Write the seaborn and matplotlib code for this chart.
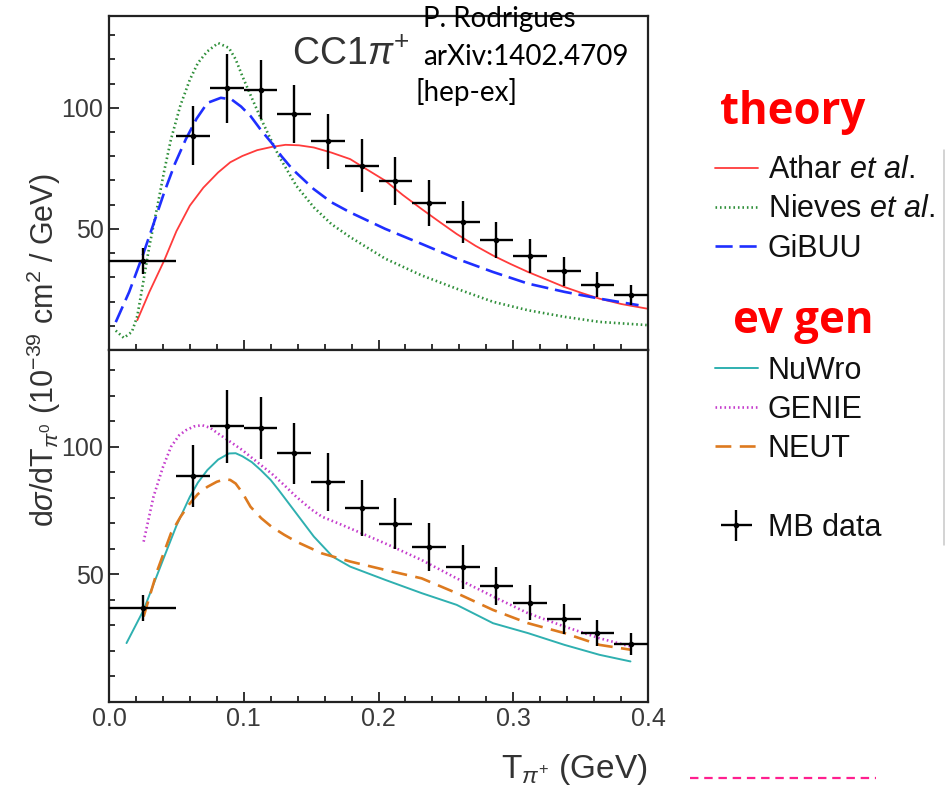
import matplotlib
matplotlib.use("Agg")
import matplotlib.pyplot as plt
import seaborn as sns
import pandas as pd
from matplotlib.lines import Line2D
from matplotlib.ticker import MultipleLocator, FixedLocator

# ---------------- data ----------------
data_x = [0.025, 0.0625, 0.0875, 0.1125, 0.1375, 0.1625, 0.1875, 0.2125,
          0.2375, 0.2625, 0.2875, 0.3125, 0.3375, 0.3625, 0.3875]
data_y = [36.7, 88.5, 108.0, 107.5, 97.5, 86.2, 76.1, 69.8,
          60.6, 52.8, 45.4, 38.9, 32.5, 27.0, 22.7]
data_yerr = [5.2, 12.2, 14.3, 12.1, 11.9, 11.3, 11.0, 10.0,
             9.4, 8.6, 7.6, 7.0, 6.0, 5.0, 4.2]
data_xerr = [0.025, 0.0125, 0.0125, 0.0125, 0.0125, 0.0125, 0.0125, 0.0125,
             0.0125, 0.0125, 0.0125, 0.0125, 0.0125, 0.0125, 0.0125]

athar_x = [0.021, 0.03, 0.041, 0.05, 0.060, 0.07, 0.081, 0.090, 0.099, 0.11,
           0.1205, 0.131, 0.141, 0.152, 0.165, 0.179, 0.19, 0.205, 0.218, 0.232,
           0.245, 0.258, 0.272, 0.285, 0.298, 0.311, 0.325, 0.338, 0.351, 0.364,
           0.38, 0.399]
athar_y = [12.3, 24.0, 37.0, 49.0, 59.6, 67.0, 73.3, 77.5, 80.1, 82.5,
           83.8, 84.7, 84.5, 83.6, 81.5, 78.8, 75.0, 69.9, 64.0, 58.2,
           53.0, 47.9, 43.0, 39.0, 35.5, 32.2, 29.0, 26.0, 23.5, 21.2,
           19.0, 17.1]

nieves_x = [0.005, 0.011, 0.017, 0.021, 0.025, 0.030, 0.036, 0.041, 0.046, 0.053,
            0.060, 0.066, 0.073, 0.081, 0.089, 0.094, 0.099, 0.106, 0.113, 0.120,
            0.126, 0.139, 0.152, 0.165, 0.179, 0.205, 0.232, 0.258, 0.285, 0.311,
            0.338, 0.364, 0.399]
nieves_y = [8.0, 5.0, 7.5, 14.0, 26.7, 43.0, 59.6, 74.0, 87.0, 101.0,
            111.6, 118.5, 123.3, 126.7, 124.7, 120.0, 113.0, 104.0, 95.2, 87.0,
            80.1, 67.8, 58.9, 52.0, 46.6, 37.7, 30.8, 25.3, 19.9, 16.4,
            13.7, 11.6, 10.3]

gibuu_x = [0.005, 0.015, 0.025, 0.033, 0.041, 0.049, 0.057, 0.065, 0.073, 0.083,
           0.091, 0.098, 0.105, 0.1125, 0.1205, 0.128, 0.136, 0.152, 0.165, 0.179,
           0.205, 0.232, 0.258, 0.285, 0.311, 0.338, 0.364, 0.393]
gibuu_y = [11.5, 24.0, 39.0, 52.0, 65.1, 77.0, 87.0, 95.5, 102.0, 104.1,
           103.4, 100.5, 96.6, 91.0, 85.6, 80.0, 74.7, 66.4, 61.0, 56.8,
           50.0, 43.8, 37.7, 32.2, 27.4, 24.0, 21.2, 18.5]

nuwro_x = [0.013, 0.0257, 0.033, 0.041, 0.050, 0.060, 0.066, 0.073, 0.081, 0.089,
           0.094, 0.099, 0.106, 0.1126, 0.120, 0.126, 0.139, 0.152, 0.166, 0.179,
           0.205, 0.232, 0.258, 0.285, 0.311, 0.338, 0.364, 0.387]
nuwro_y = [23.0, 36.0, 46.0, 56.9, 69.0, 80.4, 86.0, 90.9, 95.0, 97.4,
           97.5, 96.3, 94.0, 90.9, 87.0, 83.0, 73.9, 64.8, 56.9, 53.0,
           47.8, 42.6, 38.0, 30.8, 26.9, 22.3, 18.4, 15.8]

genie_x = [0.0257, 0.033, 0.040, 0.046, 0.052, 0.057, 0.063, 0.069, 0.075, 0.081,
           0.090, 0.099, 0.110, 0.1205, 0.130, 0.139, 0.150, 0.158, 0.170, 0.179,
           0.205, 0.232, 0.258, 0.285, 0.311, 0.338, 0.364, 0.387]
genie_y = [62.8, 80.4, 92.0, 100.0, 104.5, 106.5, 108.0, 108.5, 107.5, 105.2,
           102.0, 98.7, 94.0, 89.6, 85.0, 80.4, 75.5, 72.6, 70.0, 68.0,
           62.1, 55.6, 48.4, 41.3, 34.7, 29.5, 24.9, 21.7]

neut_x = [0.0257, 0.036, 0.046, 0.053, 0.060, 0.066, 0.073, 0.080, 0.086, 0.090,
          0.094, 0.099, 0.105, 0.113, 0.1205, 0.130, 0.139, 0.158, 0.179, 0.205,
          0.232, 0.258, 0.285, 0.311, 0.338, 0.364, 0.387]
neut_y = [33.4, 51.7, 66.1, 72.5, 77.8, 81.5, 84.3, 86.3, 87.3, 87.0,
          85.6, 82.0, 76.5, 72.0, 68.7, 65.5, 62.8, 58.2, 55.0, 51.7,
          48.4, 42.6, 36.0, 30.8, 26.9, 22.3, 20.4]

x_ticks_labels = ["0.0", "0.1", "0.2", "0.3", "0.4"]
y_major = [50, 100]

# ---------------- style ----------------
sns.set_theme(style="white")
plt.rcParams["font.family"] = ["Liberation Sans", "DejaVu Sans"]
plt.rcParams["mathtext.fontset"] = "custom"
plt.rcParams["mathtext.rm"] = "Liberation Sans"
plt.rcParams["mathtext.it"] = "Liberation Sans:italic"
plt.rcParams["mathtext.bf"] = "Liberation Sans:bold"

W, H = 952, 793
fig = plt.figure(figsize=(W / 100, H / 100), dpi=100)
fig.patch.set_facecolor("white")


def fx(px):
    return px / W


def fy(py):
    return 1 - py / H


ax1 = fig.add_axes([fx(109), fy(350), fx(648) - fx(109), fy(15.7) - fy(350)])
ax2 = fig.add_axes([fx(109), fy(701.7), fx(648) - fx(109), fy(350) - fy(701.7)])

C_ATHAR = "#ff3b3b"
C_NIEVES = "#2f8f3a"
C_GIBUU = "#1f2fff"
C_NUWRO = "#2fb0b0"
C_GENIE = "#c53ccc"
C_NEUT = "#dd7a1f"


def curve(ax, xs, ys, color, lw, dashes=None):
    sns.lineplot(x=xs, y=ys, ax=ax, color=color, linewidth=lw, sort=False,
                 estimator=None, legend=False)
    ln = ax.lines[-1]
    if dashes is not None:
        ln.set_dashes(dashes)
        ln.set_dash_capstyle("butt")
    return ln


h_athar = curve(ax1, athar_x, athar_y, C_ATHAR, 1.3)
h_nieves = curve(ax1, nieves_x, nieves_y, C_NIEVES, 1.9, (0.6, 1.1))
h_gibuu = curve(ax1, gibuu_x, gibuu_y, C_GIBUU, 1.9, (6.5, 2.6))

h_nuwro = curve(ax2, nuwro_x, nuwro_y, C_NUWRO, 1.4)
h_genie = curve(ax2, genie_x, genie_y, C_GENIE, 1.9, (0.6, 1.1))
h_neut = curve(ax2, neut_x, neut_y, C_NEUT, 1.9, (6.0, 3.2))

h_data = None
for ax in (ax1, ax2):
    h = ax.errorbar(data_x, data_y, xerr=data_xerr, yerr=data_yerr, fmt="o",
                    ms=3, color="black", ecolor="black", elinewidth=1.7,
                    capsize=0, zorder=5)
    h_data = h

for ax, showx in ((ax1, False), (ax2, True)):
    ax.set_xlim(0, 0.4)
    ax.set_ylim(0, 138)
    ax.set_xlabel("")
    ax.set_ylabel("")
    ax.xaxis.set_major_locator(FixedLocator([0.0, 0.1, 0.2, 0.3, 0.4]))
    ax.xaxis.set_minor_locator(MultipleLocator(0.02))
    ax.yaxis.set_major_locator(FixedLocator(y_major))
    ax.yaxis.set_minor_locator(MultipleLocator(10))
    ax.set_xticklabels(x_ticks_labels if showx else [])
    ax.set_yticklabels([str(v) for v in y_major])
    ax.tick_params(which="both", direction="in", top=False, right=False,
                   bottom=True, left=True, color="#222222", width=1.3,
                   labelcolor="#3a3a3a", labelsize=18, pad=4)
    ax.tick_params(which="major", length=7)
    ax.tick_params(which="minor", length=4)
    ax.tick_params(axis="x", labelbottom=showx)
    for sp in ax.spines.values():
        sp.set_linewidth(1.6)
        sp.set_color("#222222")
        sp.set_visible(True)
    ax.set_facecolor("white")

# axis titles
fig.text(fx(44), fy(350), r"d$\sigma$/dT$_{\pi^{0}}$ (10$^{-39}$ cm$^{2}$ / GeV)",
         rotation=90, ha="center", va="center", fontsize=22, color="#333333")
fig.text(fx(648), fy(778), r"T$_{\pi^{+}}$ (GeV)", ha="right", va="baseline",
         fontsize=24, color="#333333")

# annotations
fig.text(fx(292), fy(65), r"CC1$\pi^{+}$", ha="left", va="baseline",
         fontsize=27, color="#333333")
gill = ["Lato", "DejaVu Sans"]
fig.text(fx(423), fy(27), "P. Rodrigues", ha="left", va="baseline",
         fontsize=20, family=gill, color="black")
fig.text(fx(423), fy(65), "arXiv:1402.4709", ha="left", va="baseline",
         fontsize=20, family=gill, color="black")
fig.text(fx(416), fy(101), "[hep-ex]", ha="left", va="baseline",
         fontsize=20, family=gill, color="black")

# legend headings
head = ["Open Sans", "DejaVu Sans"]
fig.text(fx(720), fy(124), "theory", ha="left", va="baseline", fontsize=31.5,
         fontweight="bold", family=head, color="#ff0000")
fig.text(fx(733), fy(333), "ev gen", ha="left", va="baseline", fontsize=31.5,
         fontweight="bold", family=head, color="#ff0000")

leg_kw = dict(loc="center left", frameon=False, borderpad=0, borderaxespad=0,
              handlelength=1.4, handletextpad=0.33, labelspacing=0.3,
              fontsize=22)
lg1 = fig.legend([h_athar, h_nieves, h_gibuu],
                 [r"Athar $\it{et\ al.}$", r"Nieves $\it{et\ al.}$", "GiBUU"],
                 bbox_to_anchor=(fx(715), fy(209.5)), **leg_kw)
lg2 = fig.legend([h_nuwro, h_genie, h_neut], ["NuWro", "GENIE", "NEUT"],
                 bbox_to_anchor=(fx(715), fy(410)), **leg_kw)
lg3 = fig.legend([h_data], ["MB data"],
                 bbox_to_anchor=(fx(715), fy(528)), **leg_kw)
for lg in (lg1, lg2, lg3):
    for t in lg.get_texts():
        t.set_color("#111111")

# decorations
fig.add_artist(Line2D([fx(944), fx(944)], [fy(150), fy(545)], color="#c8c8c8",
                      lw=1.1))
fig.add_artist(Line2D([fx(690), fx(876)], [fy(777.5), fy(777.5)],
                      color="#ff1f8f", lw=1.6, dashes=(3.8, 2.6)))

fig.savefig("out.png", dpi=100, facecolor="white")
